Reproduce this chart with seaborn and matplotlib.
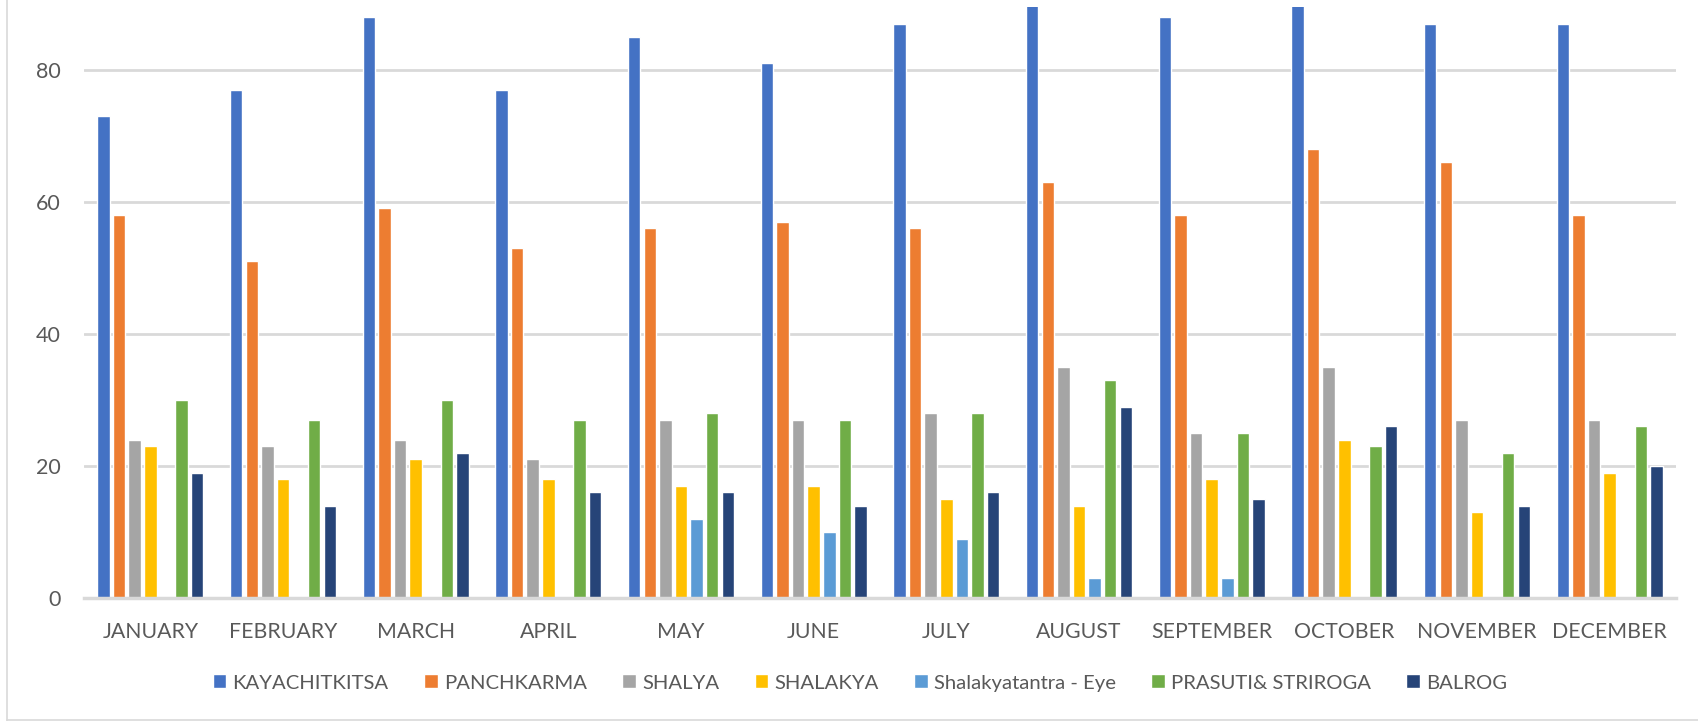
import pandas as pd
import matplotlib.pyplot as plt
import matplotlib.lines as mlines
import seaborn as sns

# ---------------------------
# Data
# ---------------------------
months = ["JANUARY", "FEBRUARY", "MARCH", "APRIL", "MAY", "JUNE",
          "JULY", "AUGUST", "SEPTEMBER", "OCTOBER", "NOVEMBER", "DECEMBER"]

departments = ["KAYACHITKITSA", "PANCHKARMA", "SHALYA", "SHALAKYA",
               "Shalakyatantra - Eye", "PRASUTI& STRIROGA", "BALROG"]

kayachitkitsa = [73, 77, 88, 77, 85, 81, 87, 92, 88, 91, 87, 87]
panchkarma = [58, 51, 59, 53, 56, 57, 56, 63, 58, 68, 66, 58]
shalya = [24, 23, 24, 21, 27, 27, 28, 35, 25, 35, 27, 27]
shalakya = [23, 18, 21, 18, 17, 17, 15, 14, 18, 24, 13, 19]
shalakya_eye = [0, 0, 0, 0, 12, 10, 9, 3, 3, 0, 0, 0]
prasuti = [30, 27, 30, 27, 28, 27, 28, 33, 25, 23, 22, 26]
balrog = [19, 14, 22, 16, 16, 14, 16, 29, 15, 26, 14, 20]

y_ticks = [0, 20, 40, 60, 80]

palette = ["#4472C4", "#ED7D31", "#A5A5A5", "#FFC000",
           "#5B9BD5", "#70AD47", "#264478"]

# long format table for seaborn
series = [kayachitkitsa, panchkarma, shalya, shalakya, shalakya_eye, prasuti, balrog]
rows = []
for dept, vals in zip(departments, series):
    for m, v in zip(months, vals):
        rows.append({"Month": m, "Department": dept, "Count": v})
df = pd.DataFrame(rows)

# ---------------------------
# Plot
# ---------------------------
sns.set_style("white")
plt.rcParams["font.family"] = ["Lato", "DejaVu Sans"]
text_color = "#595959"
grid_color = "#D9D9D9"

fig = plt.figure(figsize=(16.99, 7.21), dpi=100)
ax = fig.add_axes([84 / 1699, 1 - 598 / 721, (1676 - 84) / 1699, (598 - 7) / 721])

sns.barplot(data=df, x="Month", y="Count", hue="Department",
            order=months, hue_order=departments, palette=palette,
            width=0.823, gap=0.2, saturation=1, ax=ax, zorder=3)

ax.set_ylim(0, 89.5)
ax.set_xlim(-0.5, len(months) - 0.5)
ax.set_yticks(y_ticks)
ax.set_xlabel("")
ax.set_ylabel("")

ax.grid(axis="y", color=grid_color, linewidth=2, zorder=0)
ax.set_axisbelow(True)
for side in ["top", "right", "left"]:
    ax.spines[side].set_visible(False)
ax.spines["bottom"].set_color(grid_color)
ax.spines["bottom"].set_linewidth(2.5)
ax.spines["bottom"].set_zorder(4)

ax.tick_params(axis="y", length=0, pad=17, labelsize=15.5, labelcolor=text_color)
ax.tick_params(axis="x", length=0, pad=17, labelsize=15.3, labelcolor=text_color)

# legend below the axes
handles, labels = ax.get_legend_handles_labels()
ax.get_legend().remove()
fig.legend(handles, labels, loc="center", bbox_to_anchor=(860 / 1699, 1 - 683 / 721),
           ncol=len(departments), frameon=False, fontsize=14.6,
           handlelength=0.67, handleheight=0.67, handletextpad=0.3,
           columnspacing=1.75, labelcolor=text_color)

# chart area border (left and bottom visible in reference)
fig.add_artist(mlines.Line2D([7 / 1699, 7 / 1699], [0.5 / 721, 1], transform=fig.transFigure,
                             color=grid_color, linewidth=1.2))
fig.add_artist(mlines.Line2D([7 / 1699, 1], [1.5 / 721, 1.5 / 721], transform=fig.transFigure,
                             color=grid_color, linewidth=1.2))

fig.savefig("out.png", dpi=100, facecolor="white")
